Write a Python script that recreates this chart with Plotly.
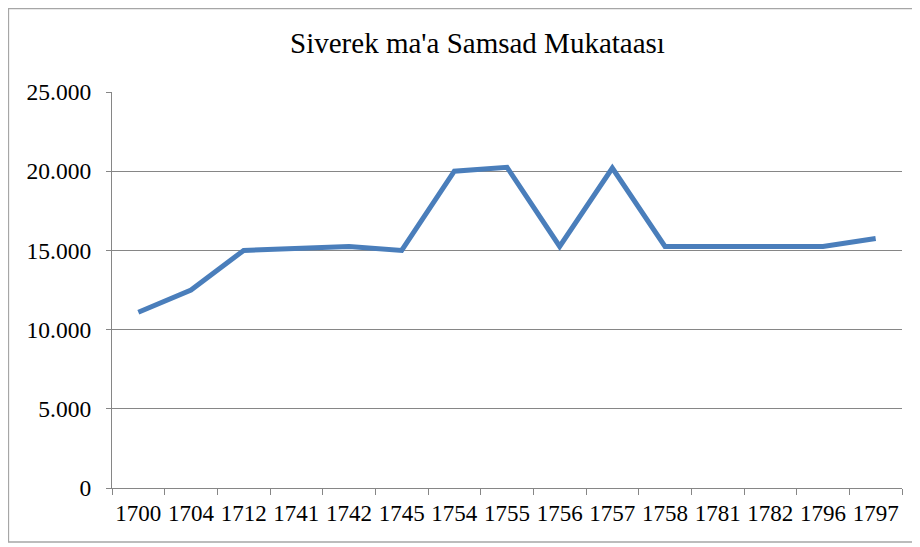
import plotly.graph_objects as go

years = ["1700", "1704", "1712", "1741", "1742", "1745", "1754", "1755",
         "1756", "1757", "1758", "1781", "1782", "1796", "1797"]
values = [11100, 12500, 15000, 15150, 15250, 15000, 20000, 20250,
          15250, 20200, 15250, 15250, 15250, 15250, 15750]
y_ticks = [0, 5000, 10000, 15000, 20000, 25000]
y_tick_labels = ["0", "5.000", "10.000", "15.000", "20.000", "25.000"]
title_text = "Siverek ma'a Samsad Mukataası"

OFF = 8  # page body margin
W, H = 920, 547
L, T = 112 - OFF, 92 - OFF
R = W - L - 790
B = H - T - 396
pw, ph = W - L - R, H - T - B

def px_x(p):
    return (p - OFF - L) / pw

def px_y(p):
    return (H - B - (p - OFF)) / ph

fig = go.Figure()
fig.add_trace(go.Scatter(
    x=years, y=values, mode="lines",
    line=dict(color="#4A7EBB", width=5),
    hoverinfo="x+y",
))

font_fam = "Times New Roman"

fig.update_layout(
    width=W, height=H,
    margin=dict(l=L, r=R, t=T, b=B, autoexpand=False),
    paper_bgcolor="white", plot_bgcolor="white",
    showlegend=False,
    font=dict(family=font_fam, color="#000000"),
    title=dict(text=title_text, x=(477.5 - OFF) / W, xanchor="center",
               y=1 - (43 - OFF) / H, yanchor="middle",
               font=dict(family=font_fam, size=29, color="#000000")),
    xaxis=dict(
        type="category", range=[-0.5, 14.5], automargin=False,
        showgrid=False, showline=True, linecolor="#868686", linewidth=1.3,
        ticks="outside", tickson="boundaries", ticklen=6, tickcolor="#868686",
        tickwidth=1.3, tickangle=0,
        tickfont=dict(family=font_fam, size=23, color="#000000"),
        ticklabelstandoff=4,
    ),
    yaxis=dict(
        range=[0, 25000], tickvals=y_ticks, ticktext=y_tick_labels,
        automargin=False,
        showgrid=True, gridcolor="#868686", gridwidth=1.3,
        showline=True, linecolor="#868686", linewidth=1.3,
        ticks="outside", ticklen=5, tickcolor="#868686", tickwidth=1.3,
        tickfont=dict(family=font_fam, size=23.5, color="#000000"),
        ticklabelstandoff=10,
        zeroline=False,
    ),
    shapes=[dict(
        type="rect", xref="paper", yref="paper",
        x0=px_x(8.5), x1=px_x(940), y0=px_y(542), y1=px_y(8.5),
        line=dict(color="#A6A6A6", width=1.3), fillcolor="rgba(0,0,0,0)",
        layer="below",
    )],
)

fig.write_html("out.html")
